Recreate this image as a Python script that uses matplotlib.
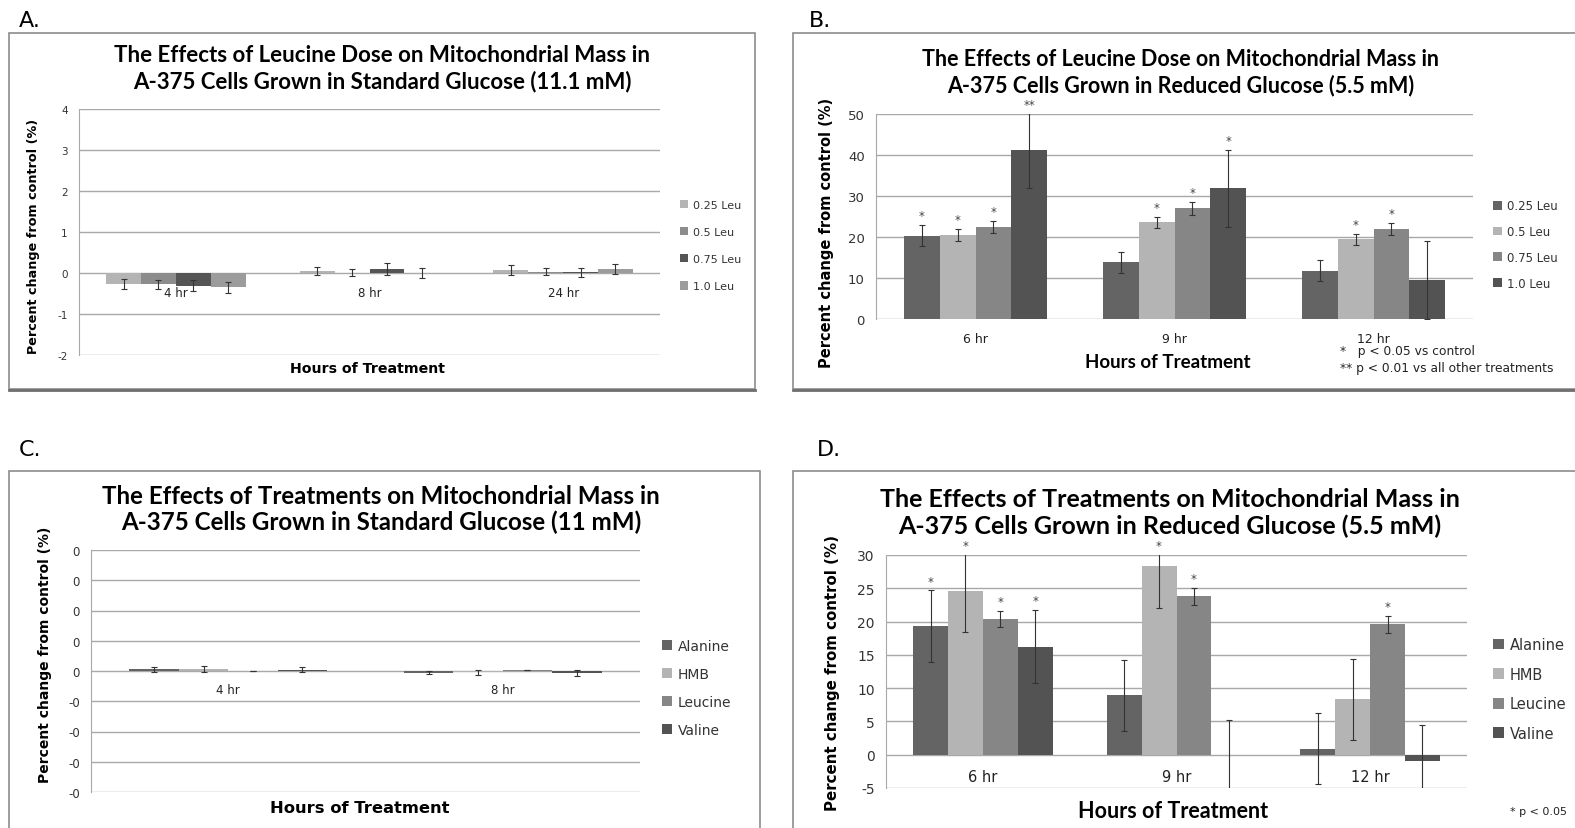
import numpy as np
import matplotlib.pyplot as plt
from matplotlib.patches import Rectangle

W, H = 1575, 829

# Panel A - leucine dose, standard glucose
hours_a = ['4 hr', '8 hr', '24 hr']
doses_a = ['0.25 Leu', '0.5 Leu', '0.75 Leu', '1.0 Leu']
vals_a = [[-0.27, 0.04, 0.07],
          [-0.27, 0.01, 0.03],
          [-0.31, 0.10, 0.02],
          [-0.35, 0.00, 0.10]]
err_a = [[0.12, 0.10, 0.13],
         [0.11, 0.08, 0.09],
         [0.13, 0.14, 0.11],
         [0.14, 0.12, 0.13]]

# Panel B - leucine dose, reduced glucose
hours_b = ['6 hr', '9 hr', '12 hr']
doses_b = ['0.25 Leu', '0.5 Leu', '0.75 Leu', '1.0 Leu']
vals_b = [[20.3, 13.8, 11.8],
          [20.5, 23.6, 19.5],
          [22.4, 27.0, 22.0],
          [41.1, 31.9, 9.5]]
err_b = [[2.6, 2.5, 2.55],
         [1.45, 1.4, 1.35],
         [1.5, 1.6, 1.4],
         [9.1, 9.35, 9.45]]
stars_b = [['*', '', ''],
           ['*', '*', '*'],
           ['*', '*', '*'],
           ['**', '*', '']]

# Panel C - treatments, standard glucose
hours_c = ['4 hr', '8 hr']
treatments = ['Alanine', 'HMB', 'Leucine', 'Valine']
vals_c = [[0.005, -0.005],
          [0.008, -0.004],
          [0.0, 0.002],
          [0.004, -0.008]]
err_c = [[0.008, 0.006],
         [0.010, 0.008],
         [0.0, 0.0],
         [0.008, 0.010]]

# Panel D - treatments, reduced glucose
hours_d = ['6 hr', '9 hr', '12 hr']
vals_d = [[19.3, 8.9, 0.9],
          [24.6, 28.4, 8.3],
          [20.4, 23.8, 19.6],
          [16.2, -0.05, -1.0]]
err_d = [[5.4, 5.3, 5.35],
         [6.2, 6.3, 6.15],
         [1.2, 1.25, 1.3],
         [5.5, 5.3, 5.4]]
stars_d = [['*', '', ''],
           ['*', '*', ''],
           ['*', '*', '*'],
           ['*', '', '']]

colors_a = ['#b4b4b4', '#8c8c8c', '#555555', '#9c9c9c']
colors_bcd = ['#646464', '#b4b4b4', '#868686', '#535353']

TITLE_FONT = 'Lato'
LABEL_FONT = 'DejaVu Sans'

fig = plt.figure(figsize=(W / 100, H / 100), dpi=100)


def px(x, y):
    return x / W, 1 - y / H


def draw_panel(rect, cats, series, vals, errs, colors, ylim, yticks, fmt,
               stars=None, tick_size=8, cat_size=8.5, cat_off=14):
    l, r, t, b = rect
    ax = fig.add_axes([l / W, 1 - b / H, (r - l) / W, (b - t) / H])
    n = len(series)
    x = np.arange(len(cats))
    width = 0.72 / n
    for i, name in enumerate(series):
        pos = x + (i - (n - 1) / 2) * width
        ax.bar(pos, vals[i], width, color=colors[i], label=name, zorder=2)
        ax.errorbar(pos, vals[i], yerr=errs[i], fmt='none', ecolor='#333333',
                    elinewidth=0.8, capsize=2.5, capthick=0.8, zorder=3)
        if stars:
            for j in range(len(cats)):
                if stars[i][j]:
                    ys = min(vals[i][j] + errs[i][j], ylim[1])
                    ax.annotate(stars[i][j], (pos[j], ys), xytext=(0, 2),
                                textcoords='offset points', ha='center', va='bottom',
                                fontsize=8.5, color='#444444', annotation_clip=False)
    ax.set_xlim(-0.5, len(cats) - 0.5)
    ax.set_ylim(*ylim)
    ax.set_yticks(yticks)
    ax.set_yticklabels([fmt.format(v) for v in yticks])
    ax.set_xticks([])
    ax.grid(axis='y', color='#a8a8a8', lw=1, zorder=0)
    for s in ['top', 'right', 'bottom']:
        ax.spines[s].set_visible(False)
    ax.spines['left'].set_color('#a8a8a8')
    ax.tick_params(axis='y', length=0, labelsize=tick_size, labelcolor='#333333', pad=8)
    # category labels sit next to the zero line like in Excel
    for j, c in enumerate(cats):
        ax.annotate(c, (x[j], 0), xytext=(0, -cat_off), textcoords='offset points',
                    ha='center', va='center', fontsize=cat_size, color='#222222')
    return ax


def legend(ax, x, y, size=8.5, spacing=1.15):
    ax.legend(loc='center left', bbox_to_anchor=px(x, y), bbox_transform=fig.transFigure,
              frameon=False, fontsize=size, handlelength=0.75, handleheight=0.75,
              handletextpad=0.4, labelspacing=spacing, labelcolor='#333333',
              borderpad=0, borderaxespad=0)


# frames around each panel
for (x0, y0, x1, y1) in [(9, 34, 755, 390), (793, 34, 1590, 390),
                         (9, 472, 760, 840), (793, 472, 1590, 840)]:
    fig.patches.append(Rectangle(px(x0, y1), (x1 - x0) / W, (y1 - y0) / H,
                                 transform=fig.transFigure, fill=False,
                                 edgecolor='#8c8c8c', lw=1.2))
for x0, x1 in [(9, 755), (793, 1590)]:
    fig.lines.append(plt.Line2D([x0 / W, x1 / W], [1 - 390.5 / H] * 2,
                                transform=fig.transFigure, color='#6e6e6e', lw=2))

# A
ax = draw_panel((79, 660, 110, 356), hours_a, doses_a, vals_a, err_a, colors_a,
                (-2, 4), np.arange(-2, 5), '{:.0f}', tick_size=7.5, cat_size=8.5)
legend(ax, 680, 246.5, 8, 1.55)
# B
ax = draw_panel((876, 1473, 115, 320), hours_b, doses_b, vals_b, err_b, colors_bcd,
                (0, 50), np.arange(0, 60, 10), '{:.0f}', stars=stars_b, tick_size=9.5,
                cat_size=9)
legend(ax, 1493, 245.5, 8.5, 1.08)
# C
ax = draw_panel((91, 640, 551, 793), hours_c, treatments, vals_c, err_c, colors_bcd,
                (-0.4, 0.4), np.round(np.linspace(-0.4, 0.4, 9), 2), '{:.0f}',
                tick_size=8.5, cat_size=8.5, cat_off=13)
legend(ax, 662, 689, 10, 1.0)
# D
ax = draw_panel((886, 1467, 556, 789), hours_d, treatments, vals_d, err_d, colors_bcd,
                (-5, 30), np.arange(-5, 35, 5), '{:.0f}', stars=stars_d,
                tick_size=10, cat_size=10.5, cat_off=16)
legend(ax, 1493, 690, 10.5, 1.0)

# titles
titles = [
    ((382, 56), (382, 82), 'The Effects of Leucine Dose on Mitochondrial Mass in',
     'A-375 Cells Grown in Standard Glucose (11.1 mM)', 16),
    ((1181, 59), (1181, 86), 'The Effects of Leucine Dose on Mitochondrial Mass in',
     'A-375 Cells Grown in Reduced Glucose (5.5 mM)', 15.5),
    ((381, 496), (381, 522), 'The Effects of Treatments on Mitochondrial Mass in',
     'A-375 Cells Grown in Standard Glucose (11 mM)', 17.4),
    ((1170, 500), (1170, 526), 'The Effects of Treatments on Mitochondrial Mass in',
     'A-375 Cells Grown in Reduced Glucose (5.5 mM)', 18),
]
for p1, p2, l1, l2, fs in titles:
    fig.text(*px(*p1), l1, ha='center', va='center', fontsize=fs,
             fontweight='bold', family=TITLE_FONT)
    fig.text(*px(*p2), l2, ha='center', va='center', fontsize=fs,
             fontweight='bold', family=TITLE_FONT)

# axis labels
for (x, y), fs in [((34, 236), 9.2), ((826, 233), 10.5), ((45, 655), 10), ((832, 673), 10.8)]:
    fig.text(*px(x, y), 'Percent change from control (%)', rotation=90, ha='center',
             va='center', fontsize=fs, fontweight='bold', family=LABEL_FONT)
for (x, y), fs, fam in [((368, 369), 10.2, LABEL_FONT), ((1168, 363), 13.5, TITLE_FONT),
                        ((360, 809), 11.8, LABEL_FONT), ((1173, 812), 15.5, TITLE_FONT)]:
    fig.text(*px(x, y), 'Hours of Treatment', ha='center', va='center', fontsize=fs,
             fontweight='bold', family=fam)

# panel letters
for (x, y), s in [((19, 21), 'A.'), ((809, 21), 'B.'), ((19, 450), 'C.'), ((817, 450), 'D.')]:
    fig.text(*px(x, y), s, ha='left', va='center', fontsize=16, family=LABEL_FONT)

# footnotes
fig.text(*px(1340, 352), '*   p < 0.05 vs control', fontsize=8.8, va='center', color='#222222')
fig.text(*px(1340, 369), '** p < 0.01 vs all other treatments', fontsize=8.8, va='center',
         color='#222222')
fig.text(*px(1510, 812), '* p < 0.05', fontsize=8, va='center', color='#222222')

fig.savefig('out.png', dpi=100)
